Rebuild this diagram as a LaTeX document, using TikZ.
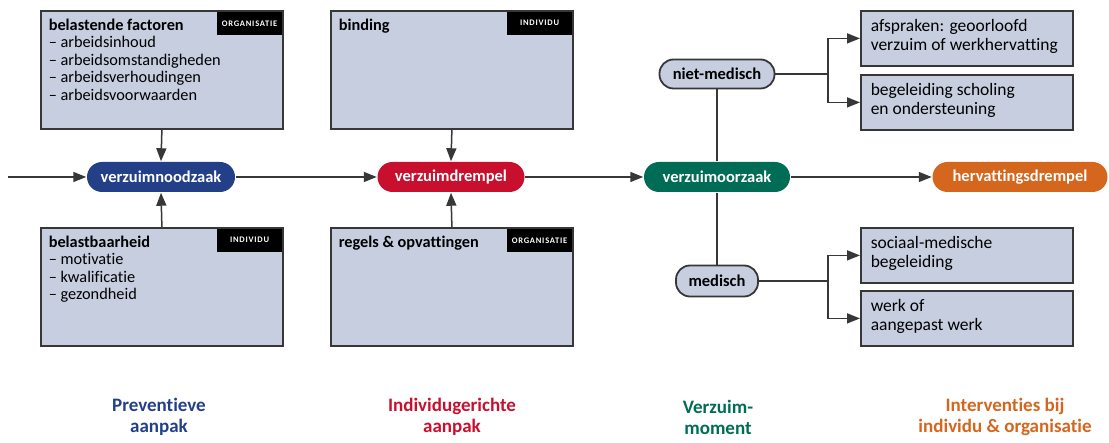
\documentclass[tikz,border=0pt]{standalone}
\usepackage{fontspec}
\setmainfont[RawFeature=-liga]{Carlito}
\newfontfamily\tagfont[LetterSpace=9,RawFeature=-liga]{Carlito}
\usetikzlibrary{arrows.meta,positioning}
\definecolor{navy}{RGB}{35,63,136}
\definecolor{crimson}{RGB}{200,16,46}
\definecolor{teal}{RGB}{0,108,86}
\definecolor{rust}{RGB}{212,102,30}
\definecolor{boxbg}{RGB}{198,206,224}
\definecolor{edge}{RGB}{55,55,55}
\begin{document}
\begin{tikzpicture}[x=1pt,y=-1pt,>={Triangle[length=13pt,width=10pt]},
 line width=1.5pt,draw=edge,
 fbox/.style={draw=edge,fill=boxbg,line width=1.8pt,minimum width=242pt,minimum height=118pt,anchor=north west,inner sep=0pt},
 rbox/.style={fbox,minimum width=212pt,minimum height=55pt},
 btxt/.style={inner sep=0pt,align=left,font=\fontsize{16.3}{17.6}\selectfont},
 rtxt/.style={btxt,font=\fontsize{17.5}{19}\selectfont},
 tag/.style={fill=black,text=white,minimum width=65pt,minimum height=23pt,inner sep=0pt,font=\tagfont\bfseries\fontsize{8.5}{9}\selectfont},
 pill/.style={rounded corners=15pt,minimum height=30pt,inner sep=0pt,text=white,font=\bfseries\fontsize{16.5}{17}\selectfont},
 sub/.style={pill,draw=edge,fill=boxbg,text=black,line width=1.8pt,rounded corners=14pt,minimum height=29pt},
 lab/.style={align=center,font=\bfseries\fontsize{19}{21}\selectfont}]
 \useasboundingbox (0,0) rectangle (1109,443);
 % factor boxes
 \node[fbox] (b1) at (40,10) {};
 \node[fbox] (b2) at (330,10) {};
 \node[fbox] (b3) at (40,227) {};
 \node[fbox] (b4) at (330,227) {};
 \node[btxt,below right=8pt and 8pt of b1.north west] (b1t) {\textbf{belastende factoren}\\– arbeidsinhoud\\– arbeidsomstandigheden\\– arbeidsverhoudingen\\– arbeidsvoorwaarden};
 \node[btxt,below right=8pt and 8pt of b2.north west] (b2t) {\textbf{binding}};
 \node[btxt,below right=8pt and 8pt of b3.north west] (b3t) {\textbf{belastbaarheid}\\– motivatie\\– kwalificatie\\– gezondheid};
 \node[btxt,below right=8pt and 8pt of b4.north west] (b4t) {\textbf{regels \& opvattingen}};
 \node[tag,below left=1pt and 1pt of b1.north east] (g1) {ORGANISATIE};
 \node[tag,below left=1pt and 1pt of b2.north east] (g2) {INDIVIDU};
 \node[tag,below left=1pt and 1pt of b3.north east] (g3) {INDIVIDU};
 \node[tag,below left=1pt and 1pt of b4.north east] (g4) {ORGANISATIE};
 % main line
 \node[pill,fill=navy,minimum width=148pt] (nood) at (161,177) {verzuimnoodzaak};
 \node[pill,fill=crimson,minimum width=147pt] (drem) at (451,177) {verzuimdrempel};
 \node[pill,fill=teal,minimum width=146pt] (oorz) at (717,177) {verzuimoorzaak};
 \node[pill,fill=rust,minimum width=175pt] (herv) at (1020,177) {hervattingsdrempel};
 \coordinate (in) at (8,177);
 \draw[->] (in)--(nood.west);\draw[->] (nood.east)--(drem.west);
 \draw[->] (drem.east)--(oorz.west);\draw[->] (oorz.east)--(herv.west);
 \draw[->] (b1.south)--(nood.north);\draw[->] (b3.north)--(nood.south);
 \draw[->] (b2.south)--(drem.north);\draw[->] (b4.north)--(drem.south);
 % interventions
 \node[sub,minimum width=115pt] (niet) at (717,74) {niet-medisch};
 \node[sub,minimum width=82pt,minimum height=31pt] (med) at (717,281) {medisch};
 \draw (oorz.north)--(niet.south);\draw (oorz.south)--(med.north);
 \node[rbox] (rA) at (860,10) {};
 \node[rbox] (rB) at (860,74) {};
 \node[rbox] (rC) at (860,227) {};
 \node[rbox] (rD) at (860,290) {};
 \node[rtxt,below right=9pt and 10pt of rA.north west] (rAt) {afspraken: geoorloofd\\verzuim of werkhervatting};
 \node[rtxt,below right=9pt and 10pt of rB.north west] (rBt) {begeleiding scholing\\en ondersteuning};
 \node[rtxt,below right=9pt and 10pt of rC.north west] (rCt) {sociaal-medische\\begeleiding};
 \node[rtxt,below right=9pt and 10pt of rD.north west] (rDt) {werk of\\aangepast werk};
 \coordinate (j1) at (828,74); \coordinate (j2) at (828,281);
 \draw[->] (niet.east)--(j1)|-(rA.west);\draw[->] (j1)|-(rB.west);
 \draw[->] (med.east)--(j2)|-(rC.west);\draw[->] (j2)|-(rD.west);
 % phase labels
 \node[lab,text=navy] (p1) at (159,417) {Preventieve\\aanpak};
 \node[lab,text=crimson] (p2) at (452,417) {Individugerichte\\aanpak};
 \node[lab,text=teal] (p3) at (718,417) {Verzuim-\\moment};
 \node[lab,text=rust] (p4) at (1005,417) {Interventies bij\\individu \& organisatie};
\end{tikzpicture}
\end{document}
